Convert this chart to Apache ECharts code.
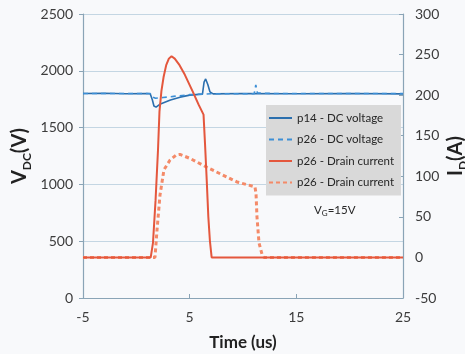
<!DOCTYPE html>
<html>
<head>
<meta charset="utf-8">
<script src="https://cdn.jsdelivr.net/npm/echarts@6/dist/echarts.min.js"></script>
<style>
  html, body { margin: 0; padding: 0; background: #f8f9fb; }
  #chart { width: 465px; height: 354px; }
</style>
</head>
<body>
<div id="chart"></div>
<script>
// Switching waveforms: DC link voltage (left axis) and drain current (right axis)
// Each point is [time in us, value].
const p14Voltage = [
  [-5, 1800], [-3, 1802], [-1, 1798], [1, 1800], [1.3, 1798], [1.5, 1745],
  [1.65, 1690], [1.85, 1680], [2.2, 1705], [3.2, 1742], [4.1, 1768], [5, 1786],
  [6.2, 1795], [6.35, 1900], [6.5, 1928], [6.7, 1880], [6.9, 1815], [7.2, 1797],
  [10, 1800], [15, 1798], [20, 1800], [25, 1797]
];
const p26Voltage = [
  [-5, 1800], [1.3, 1800], [1.5, 1770], [1.8, 1758], [2.5, 1765], [3.5, 1775],
  [5, 1790], [7, 1798], [11.05, 1798], [11.2, 1875], [11.35, 1805], [13, 1800],
  [25, 1800]
];
const p26CurrentSolid = [
  [-5, 0], [1.35, 0], [1.56, 18], [1.8, 70], [2.03, 132], [2.17, 180],
  [2.35, 205], [2.55, 222], [2.8, 237], [3.05, 245], [3.3, 248], [3.6, 245],
  [4.0, 238], [4.55, 225], [5.3, 204], [5.85, 188], [6.3, 176], [6.44, 140],
  [6.6, 95], [6.75, 50], [6.9, 20], [7.06, 0], [25, 0]
];
const p26CurrentDashed = [
  [-5, 0], [1.75, 0], [1.94, 34], [2.22, 77], [2.59, 108], [3.16, 120],
  [3.72, 126], [4.09, 127], [5.03, 122], [6.63, 111], [9.44, 93], [11.12, 87],
  [11.22, 79], [11.31, 50], [11.5, 18], [11.78, 4], [11.97, 0], [25, 0]
];
const legendNames = [
  'p14 - DC voltage',
  'p26 - DC voltage',
  'p26 - Drain current',
  'p26 - Drain current '
];
const timeTicks = { min: -5, max: 25, interval: 10 };
const voltTicks = { min: 0, max: 2500, interval: 500 };
const currTicks = { min: -50, max: 300, interval: 50 };

const axisColor = '#8aa4b6';
const labelColor = '#3c3c3c';
const font = 'Lato, "Open Sans", sans-serif';

const plainNumber = v => String(v);

const chart = echarts.init(document.getElementById('chart'), null, { renderer: 'canvas' });

chart.setOption({
  backgroundColor: '#f8f9fb',
  animation: false,
  grid: { left: 83, right: 62, top: 14, bottom: 56, containLabel: false, outerBoundsMode: 'none' },
  legend: {
    data: legendNames,
    orient: 'vertical',
    left: 266,
    top: 105,
    itemWidth: 23,
    itemHeight: 14,
    itemGap: 7.5,
    padding: [6, 4, 6, 2],
    backgroundColor: '#d9d9d9',
    itemStyle: { opacity: 0 },
    textStyle: { fontFamily: font, fontSize: 11.5, color: '#262626', lineHeight: 14 }
  },
  xAxis: {
    type: 'value',
    min: timeTicks.min,
    max: timeTicks.max,
    interval: timeTicks.interval,
    name: 'Time (us)',
    nameLocation: 'middle',
    nameGap: 36,
    nameTextStyle: { fontFamily: font, fontSize: 17, fontWeight: 'bold', color: '#222' },
    axisLine: { show: true, onZero: false, lineStyle: { color: axisColor, width: 1.2 } },
    axisTick: { show: true, inside: true, length: 4, lineStyle: { color: axisColor } },
    axisLabel: { fontFamily: font, fontSize: 14, color: labelColor, margin: 12, formatter: plainNumber },
    splitLine: { show: false }
  },
  yAxis: [
    {
      type: 'value',
      position: 'left',
      min: voltTicks.min,
      max: voltTicks.max,
      interval: voltTicks.interval,
      name: '{v|V}{sub|DC}{v|(V)}',
      nameLocation: 'middle',
      nameRotate: 90,
      nameGap: 50,
      nameMoveOverlap: false,
      nameTextStyle: {
        color: '#222',
        rich: {
          v: { fontFamily: font, fontSize: 20, fontWeight: 'bold', color: '#222', lineHeight: 26 },
          sub: { fontFamily: font, fontSize: 12, fontWeight: 'bold', color: '#222', verticalAlign: 'bottom', lineHeight: 12 }
        }
      },
      axisLine: { show: true, onZero: false, lineStyle: { color: axisColor, width: 1.2 } },
      axisTick: { show: true, inside: false, length: 4, lineStyle: { color: axisColor } },
      axisLabel: { fontFamily: font, fontSize: 14, color: labelColor, margin: 10, formatter: plainNumber },
      splitLine: { show: true, lineStyle: { color: '#c4d6e3', width: 1 } }
    },
    {
      type: 'value',
      position: 'right',
      min: currTicks.min,
      max: currTicks.max,
      interval: currTicks.interval,
      name: '{v|I}{sub|D}{v|(A)}',
      nameLocation: 'middle',
      nameRotate: 90,
      nameGap: 40,
      nameMoveOverlap: false,
      nameTextStyle: {
        color: '#222',
        rich: {
          v: { fontFamily: font, fontSize: 20, fontWeight: 'bold', color: '#222', lineHeight: 26 },
          sub: { fontFamily: font, fontSize: 12, fontWeight: 'bold', color: '#222', verticalAlign: 'bottom', lineHeight: 12 }
        }
      },
      axisLine: { show: true, onZero: false, lineStyle: { color: axisColor, width: 1.2 } },
      axisTick: { show: true, inside: true, length: 4, lineStyle: { color: axisColor } },
      axisLabel: { fontFamily: font, fontSize: 14, color: labelColor, margin: 12, formatter: plainNumber },
      splitLine: { show: false }
    }
  ],
  graphic: [
    {
      type: 'text',
      left: 314,
      top: 204,
      style: {
        text: '{a|V}{s|G}{a|=15V}',
        rich: {
          a: { fontFamily: font, fontSize: 11.5, fill: '#262626', lineHeight: 14 },
          s: { fontFamily: font, fontSize: 8, fill: '#262626', verticalAlign: 'bottom', lineHeight: 8 }
        }
      }
    }
  ],
  series: [
    {
      name: legendNames[0],
      type: 'line',
      yAxisIndex: 0,
      data: p14Voltage,
      showSymbol: false,
      symbol: 'none',
      lineStyle: { color: '#2b6fae', width: 1.6 },
      itemStyle: { color: '#2b6fae' }
    },
    {
      name: legendNames[1],
      type: 'line',
      yAxisIndex: 0,
      data: p26Voltage,
      showSymbol: false,
      symbol: 'none',
      lineStyle: { color: '#3d8fd6', width: 1.6, type: [5, 4] },
      itemStyle: { color: '#3d8fd6' }
    },
    {
      name: legendNames[3],
      type: 'line',
      yAxisIndex: 1,
      data: p26CurrentDashed,
      showSymbol: false,
      symbol: 'none',
      lineStyle: { color: '#f48a68', width: 3, type: [4, 3] },
      itemStyle: { color: '#f48a68' }
    },
    {
      name: legendNames[2],
      type: 'line',
      yAxisIndex: 1,
      data: p26CurrentSolid,
      showSymbol: false,
      symbol: 'none',
      lineStyle: { color: '#e4573d', width: 2 },
      itemStyle: { color: '#e4573d' }
    }
  ]
});
</script>
</body>
</html>
